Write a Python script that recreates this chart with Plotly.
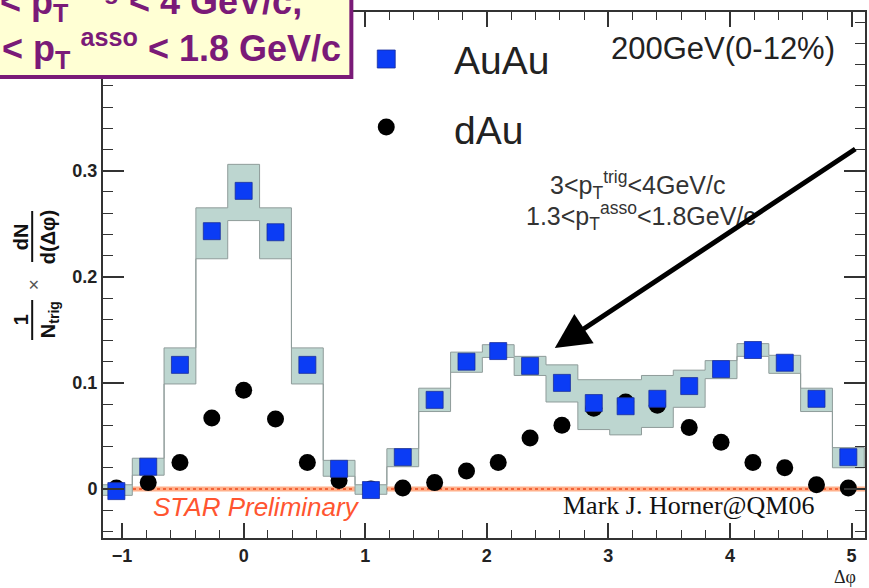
import plotly.graph_objects as go

# ---- data -------------------------------------------------------------
# delta-phi bin centres (rad), bins of width pi/12
dphi = [-1.047, -0.785, -0.524, -0.262, 0.000, 0.262, 0.524, 0.785,
        1.047, 1.309, 1.571, 1.833, 2.094, 2.356, 2.618, 2.880,
        3.142, 3.403, 3.665, 3.927, 4.189, 4.451, 4.712, 4.974]
bin_width = 0.2618

# Au+Au 200 GeV (0-12%) per-trigger yield
auau = [-0.002, 0.021, 0.117, 0.243, 0.281, 0.242, 0.117, 0.019,
        -0.001, 0.030, 0.084, 0.120, 0.130, 0.116, 0.100, 0.081,
        0.078, 0.085, 0.097, 0.113, 0.131, 0.119, 0.085, 0.030]
# systematic band (upper / lower edge)
auau_sys_hi = [0.004, 0.029, 0.133, 0.265, 0.306, 0.265, 0.133, 0.027,
               0.004, 0.038, 0.095, 0.129, 0.136, 0.125, 0.117, 0.103,
               0.103, 0.107, 0.112, 0.121, 0.137, 0.126, 0.095, 0.039]
auau_sys_lo = [-0.006, 0.013, 0.099, 0.217, 0.253, 0.217, 0.099, 0.012,
               -0.005, 0.021, 0.073, 0.110, 0.124, 0.107, 0.082, 0.056,
               0.051, 0.058, 0.077, 0.104, 0.125, 0.109, 0.073, 0.020]

# d+Au reference
dau = [0.001, 0.006, 0.025, 0.067, 0.093, 0.066, 0.025, 0.008,
       0.000, 0.001, 0.006, 0.017, 0.025, 0.048, 0.060, 0.076,
       0.082, 0.079, 0.058, 0.044, 0.025, 0.020, 0.004, 0.001]

x_ticks = [-1, 0, 1, 2, 3, 4, 5]
y_ticks = [0, 0.1, 0.2, 0.3]

# ---- page geometry ----------------------------------------------------
W, H = 869, 588
ML, MR, MT, MB = 103, 2, 12, 50
PW, PH = W - ML - MR, H - MT - MB


def px(x):
    """pixel column -> paper x"""
    return (x - ML) / PW


def py(y):
    """pixel row (from top) -> paper y"""
    return (H - MB - y) / PH


SANS = "Liberation Sans, Arial, Helvetica, sans-serif"
SERIF = "Liberation Serif, Times New Roman, serif"
AXIS = "#333333"
PURPLE = "#7a1a78"

fig = go.Figure()

# systematic band drawn as a step polygon (upper edge forward, lower edge back)
half = bin_width / 2
band_x, band_y = [], []
for c, hi in zip(dphi, auau_sys_hi):
    band_x += [c - half, c + half]
    band_y += [hi, hi]
for c, lo in zip(reversed(dphi), reversed(auau_sys_lo)):
    band_x += [c + half, c - half]
    band_y += [lo, lo]
band_x.append(band_x[0])
band_y.append(band_y[0])

fig.add_trace(go.Scatter(
    x=band_x, y=band_y, mode="lines", fill="toself",
    fillcolor="#bdd6d0", line=dict(color="#8f9c9a", width=1),
    hoverinfo="skip", showlegend=False))

fig.add_trace(go.Scatter(
    x=dphi, y=dau, mode="markers", name="dAu",
    marker=dict(symbol="circle", size=17, color="black"),
    showlegend=False))

fig.add_trace(go.Scatter(
    x=dphi, y=auau, mode="markers", name="AuAu",
    marker=dict(symbol="square", size=17, color="#0b3cf5",
                line=dict(color="#1a2f9a", width=0.8)),
    showlegend=False))

shapes = [
    # zero line
    dict(type="line", xref="paper", yref="y", x0=0, x1=1, y0=0, y1=0,
         line=dict(color="rgba(255,150,100,0.75)", width=5), layer="below"),
    dict(type="line", xref="paper", yref="y", x0=0, x1=1, y0=0, y1=0,
         line=dict(color="#f04a1e", width=1.5, dash="dot"), layer="below"),
    # kinematics box in the corner
    dict(type="rect", xref="paper", yref="paper",
         x0=px(-12), x1=px(352), y0=py(77), y1=py(-12),
         fillcolor="#ffffd4", line=dict(color=PURPLE, width=4), layer="above"),
    # fraction bars of the y-axis title
    dict(type="line", xref="paper", yref="paper",
         x0=px(32), x1=px(32), y0=py(300), y1=py(340),
         line=dict(color="#111", width=2)),
    dict(type="line", xref="paper", yref="paper",
         x0=px(32), x1=px(32), y0=py(211), y1=py(262),
         line=dict(color="#111", width=2)),
    # legend symbols
    dict(type="rect", xref="paper", yref="paper",
         x0=px(378), x1=px(396), y0=py(68), y1=py(50),
         fillcolor="#0b3cf5", line=dict(color="#1a2f9a", width=0.8)),
    dict(type="circle", xref="paper", yref="paper",
         x0=px(378.5), x1=px(395.5), y0=py(135.5), y1=py(118.5),
         fillcolor="black", line=dict(color="black", width=0)),
]


def note(text, x, y, size, color="#222", family=SANS, xanchor="center",
         yanchor="middle", angle=0, **kw):
    return dict(text=text, x=px(x), y=py(y), xref="paper", yref="paper",
                showarrow=False, xanchor=xanchor, yanchor=yanchor,
                textangle=angle, font=dict(size=size, color=color, family=family),
                **kw)


annotations = [
    note("200GeV(0-12%)", 725, 49, 31),
    note("AuAu", 453, 61, 39, xanchor="left"),
    note("dAu", 453, 130, 39, xanchor="left"),
    note("3&lt;p<sub>T</sub><sup>trig</sup>&lt;4GeV/c", 639, 185, 25, color="#333"),
    note("1.3&lt;p<sub>T</sub><sup>asso</sup>&lt;1.8GeV/c", 642, 216, 25, color="#333"),
    note("<i>STAR Preliminary</i>", 257, 507, 26, color="#ff5530"),
    note("Mark J. Horner@QM06", 690, 505, 26, color="#111", family=SERIF),
    note("Δφ", 860, 577, 18, color="#222", family=SERIF, xanchor="right"),
    # y-axis title pieces
    note("<b>1</b>", 21, 320, 20, color="#111", angle=-90),
    note("<b>N<sub>trig</sub></b>", 49, 320, 20, color="#111", angle=-90),
    note("×", 33, 285, 19, color="#555", angle=-90),
    note("<b>dN</b>", 21, 237, 20, color="#111", angle=-90),
    note("<b>d(Δφ)</b>", 48, 237, 20, color="#111", angle=-90),
    # kinematics box text
    note("<b>3 &lt; p<sub>T</sub> <sup>trig</sup> &lt; 4 GeV/c,</b>", 305, 1, 36,
         color=PURPLE, xanchor="right"),
    note("<b>1.3 &lt; p<sub>T</sub> <sup>asso</sup> &lt; 1.8 GeV/c</b>", 344, 49, 36,
         color=PURPLE, xanchor="right"),
    # arrow pointing at the away-side shoulder
    dict(x=px(556), y=py(348), xref="paper", yref="paper", text="",
         showarrow=True, ax=858 - 556, ay=148 - 348, arrowhead=2,
         arrowsize=1.4, arrowwidth=5, arrowcolor="black"),
]

fig.update_layout(
    width=W, height=H,
    margin=dict(l=ML, r=MR, t=MT, b=MB, pad=0),
    paper_bgcolor="white", plot_bgcolor="white",
    shapes=shapes, annotations=annotations, showlegend=False,
    xaxis=dict(
        range=[-1.157, 5.111], tickvals=x_ticks,
        showline=True, linecolor=AXIS, linewidth=2, mirror="ticks",
        ticks="inside", ticklen=15, tickwidth=1.5, tickcolor=AXIS,
        showgrid=False, zeroline=False,
        tickfont=dict(family=SANS, size=18, color="#222", weight="bold"),
        minor=dict(ticks="inside", dtick=0.2, tick0=0, ticklen=8,
                   tickwidth=1.2, tickcolor=AXIS, showgrid=False),
    ),
    yaxis=dict(
        range=[-0.0462, 0.4496], tickvals=y_ticks,
        showline=True, linecolor=AXIS, linewidth=2, mirror="ticks",
        ticks="inside", ticklen=21, tickwidth=1.5, tickcolor=AXIS,
        showgrid=False, zeroline=False,
        tickfont=dict(family=SANS, size=18, color="#222", weight="bold"),
        minor=dict(ticks="inside", dtick=0.02, tick0=0, ticklen=10,
                   tickwidth=1.2, tickcolor=AXIS, showgrid=False),
    ),
)

fig.write_html("out.html")
